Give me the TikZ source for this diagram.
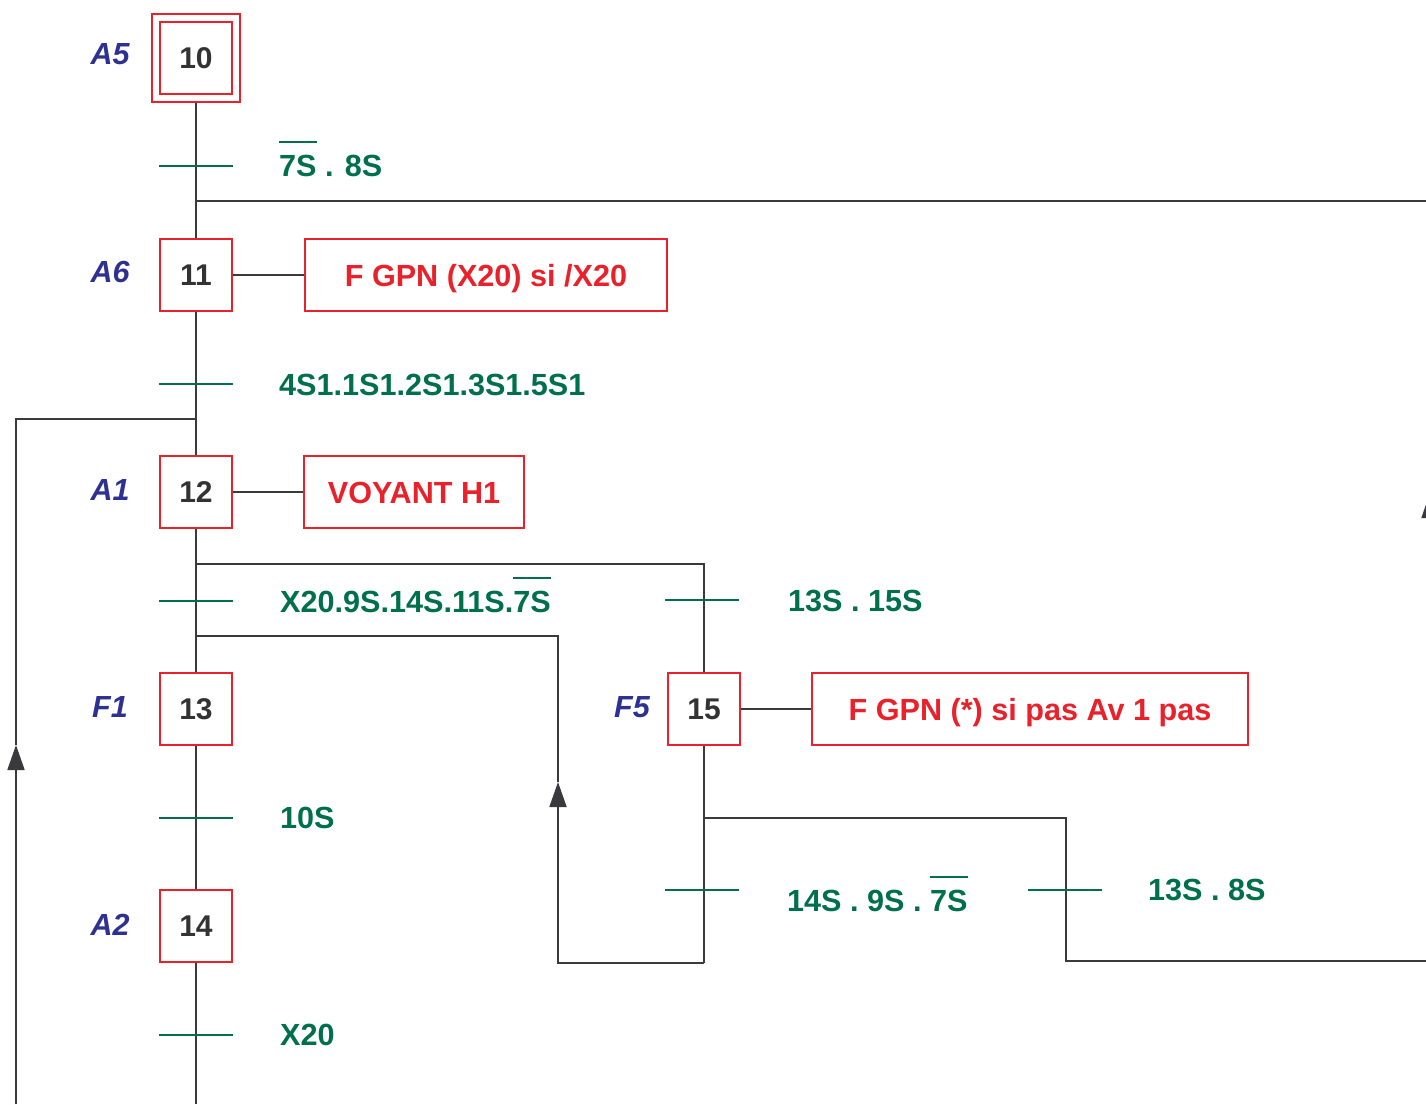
\documentclass[tikz,border=0pt]{standalone}
\usepackage{fontspec}
\setmainfont{Liberation Sans}
\usetikzlibrary{arrows.meta}
\definecolor{ln}{HTML}{3A3A3C}
\definecolor{rd}{HTML}{E8212B}
\definecolor{gr}{HTML}{00704A}
\definecolor{bl}{HTML}{2E3192}
\definecolor{tx}{HTML}{333333}
\newcommand\ovbar[1]{\vbox{\hrule height 1.6pt\kern 12pt\hbox{#1}}}
\begin{document}
\begin{tikzpicture}[x=1pt,y=-1pt,
  stepbox/.style={draw=rd,line width=1.4pt,minimum width=72pt,minimum height=72pt,inner sep=0pt,font=\fontsize{30}{30}\selectfont\bfseries,text=tx},
  outerbox/.style={draw=rd,line width=1.4pt,minimum width=88pt,minimum height=88pt,inner sep=0pt},
  actbox/.style={draw=rd,line width=1.4pt,minimum height=72pt,inner sep=0pt,text height=22pt,text depth=0pt,font=\fontsize{30.6}{31}\selectfont\bfseries,text=rd},
  steplbl/.style={font=\fontsize{30.5}{31}\selectfont\bfseries\itshape,text=bl,inner sep=0pt},
  trlbl/.style={font=\fontsize{30.6}{31}\selectfont\bfseries,text=gr,inner sep=0pt,anchor=base west},
  tick/.style={draw=gr,line width=1.4pt},
  link/.style={draw=ln,line width=1.8pt},
  upar/.style={link,-{Triangle[width=17pt,length=25pt]}}]
\useasboundingbox (0,0) rectangle (1426,1104);
\clip (0,0) rectangle (1426,1104);

% steps
\node[outerbox] (s10o) at (196,58) {};
\node[stepbox] (s10) at (196,58) {10};
\node[stepbox] (s11) at (196,275) {11};
\node[stepbox] (s12) at (196,492) {12};
\node[stepbox] (s13) at (196,709) {13};
\node[stepbox] (s14) at (196,926) {14};
\node[stepbox] (s15) at (704,709) {15};

% step labels
\node[steplbl] (l10) at (110,54) {A5};
\node[steplbl] (l11) at (110,272) {A6};
\node[steplbl] (l12) at (110,490) {A1};
\node[steplbl] (l13) at (110,707) {F1};
\node[steplbl] (l14) at (110,925) {A2};
\node[steplbl] (l15) at (632,707) {F5};

% actions
\node[actbox,minimum width=362pt] (a11) at (486,275) {F GPN (X20) si /X20};
\node[actbox,minimum width=220pt] (a12) at (414,492) {VOYANT H1};
\node[actbox,minimum width=436pt] (a15) at (1030,709) {F GPN (*) si pas Av 1 pas};
\draw[link] (s11.east) -- (a11.west);
\draw[link] (s12.east) -- (a12.west);
\draw[link] (s15.east) -- (a15.west);

% coordinates
\coordinate (jTop) at (196,201);
\coordinate (jLoop) at (196,419);
\coordinate (jDiv) at (196,564);
\coordinate (jRet) at (196,636);
\coordinate (bot) at (196,1104);
\coordinate (j15) at (704,818);
\coordinate (j15b) at (704,963);

% main line
\draw[link] (s10o.south) -- (s11.north);
\draw[link] (s11.south) -- (s12.north);
\draw[link] (s12.south) -- (s13.north);
\draw[link] (s13.south) -- (s14.north);
\draw[link] (s14.south) -- (bot);

% left loop
\draw[upar] (16,1104) -- (16,745);
\draw[link] (16,745) -- (16,419) -- (jLoop);

% top right return
\draw[link] (jTop) -- (1440,201);
\draw[upar] (1430,961) -- (1430,493);
\draw[link] (1430,493) -- (1430,201);

% divergence to 15
\draw[link] (jDiv) -- (704,564) -- (s15.north);
\draw[link] (s15.south) -- (j15b);
\draw[upar] (j15b) -- (558,963) -- (558,782);
\draw[link] (558,782) -- (558,636) -- (jRet);

% branch 13S.8S
\draw[link] (j15) -- (1066,818) -- (1066,961) -- (1440,961);

% transitions
\draw[tick] (159,166) -- (233,166);
\draw[tick] (159,384) -- (233,384);
\draw[tick] (159,601) -- (233,601);
\draw[tick] (159,818) -- (233,818);
\draw[tick] (159,1035) -- (233,1035);
\draw[tick] (665,600) -- (739,600);
\draw[tick] (665,890) -- (739,890);
\draw[tick] (1028,890) -- (1102,890);

\node[trlbl] (t1) at (279,176) {\ovbar{7S} . 8S};
\node[trlbl] (t2) at (279,395) {4S1.1S1.2S1.3S1.5S1};
\node[trlbl] (t3) at (280,612) {X20.9S.14S.11S.\ovbar{7S}};
\node[trlbl] (t4) at (280,828) {10S};
\node[trlbl] (t5) at (280,1045) {X20};
\node[trlbl] (t6) at (788,611) {13S . 15S};
\node[trlbl] (t7) at (787,911) {14S . 9S . \ovbar{7S}};
\node[trlbl] (t8) at (1148,900) {13S . 8S};
\end{tikzpicture}
\end{document}
